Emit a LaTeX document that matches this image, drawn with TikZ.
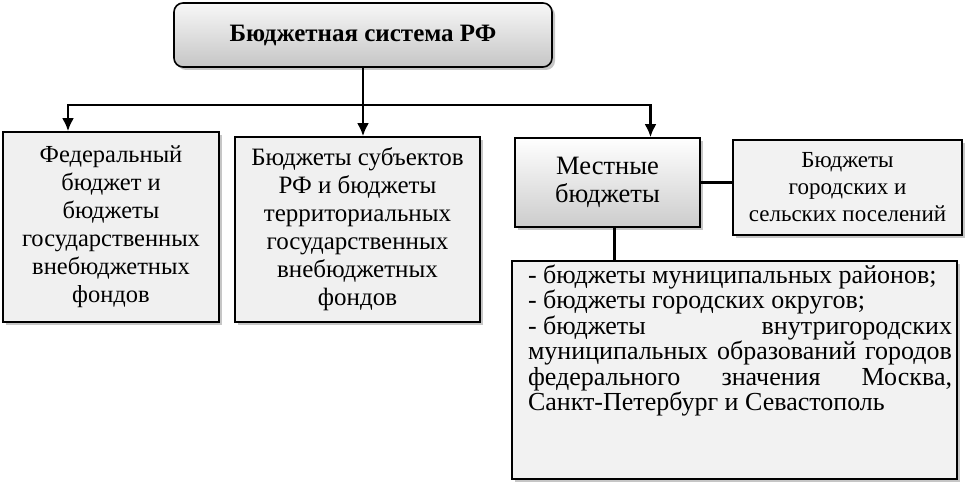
\documentclass[tikz,border=0pt]{standalone}
\usepackage{fontspec}
\setmainfont{Liberation Serif}
\usetikzlibrary{arrows.meta,shadows}

\begin{document}
\begin{tikzpicture}[>={Latex[length=13pt,width=12pt]}, x=1pt, y=-1pt,
		box/.style={draw, line width=1.6pt, align=center, inner sep=2pt,
			font=\fontsize{24.5}{28}\selectfont,
			drop shadow={shadow xshift=3pt, shadow yshift=-3pt, opacity=.45}},
		conn/.style={line width=2.6pt}]
		\useasboundingbox (0,0) rectangle (965,484);
		\node[box, rounded corners=9pt, top color=gray!6, bottom color=gray!45,
			minimum width=378pt, minimum height=64pt,
			font=\fontsize{25}{28}\selectfont\bfseries] (sys) at (363,35) {Бюджетная система РФ};
		\node[box, fill=gray!12, minimum width=216pt, minimum height=190pt] (fed) at (111,227)
			{Федеральный\\ бюджет и\\ бюджеты\\ государственных\\ внебюджетных\\ фондов};
		\node[box, fill=gray!12, minimum width=245pt, minimum height=185pt,
			font=\fontsize{25}{28}\selectfont] (sub) at (357.5,229.5)
			{Бюджеты субъектов\\ РФ и бюджеты\\ территориальных\\ государственных\\ внебюджетных\\ фондов};
		\node[box, top color=white, bottom color=gray!40, minimum width=185pt, minimum height=89pt,
			font=\fontsize{26.5}{28}\selectfont] (loc) at (607.5,182.5)
			{Местные\\ бюджеты};
		\node[box, fill=gray!10, minimum width=229pt, minimum height=95pt,
			font=\fontsize{23}{27}\selectfont] (sett) at (847.5,187.5)
			{Бюджеты\\ городских и\\ сельских поселений};
		\node[box, fill=gray!10, anchor=north, inner xsep=0pt, inner ysep=4pt,
			font=\fontsize{26}{25.5}\selectfont] (list) at (734.5,260)
			{\hspace*{16pt}\parbox[t][210pt][t]{424pt}{-\kern.25em бюджеты муниципальных районов;\par
				-\kern.25em бюджеты городских округов;\par
				-\kern.25em бюджеты внутригородских\linebreak муниципальных образований городов\linebreak
				федерального значения Москва,\linebreak Санкт-Петербург и Севастополь}\hspace*{5pt}};
		\coordinate (bus) at (363,105);
		\draw[conn] (sys.south) -- (bus);
		\draw[conn, ->] (bus) -| ([xshift=-43pt]fed.north);
		\draw[conn, ->] (bus) -- (bus |- sub.north);
		\draw[conn, ->] (bus) -| ([xshift=43pt]loc.north);
		\draw[conn] (loc.east) -- (loc.east -| sett.west);
		\draw[conn] ([xshift=7pt]loc.south) -- ([xshift=7pt]loc.south |- list.north);
	\end{tikzpicture}
\end{document}
